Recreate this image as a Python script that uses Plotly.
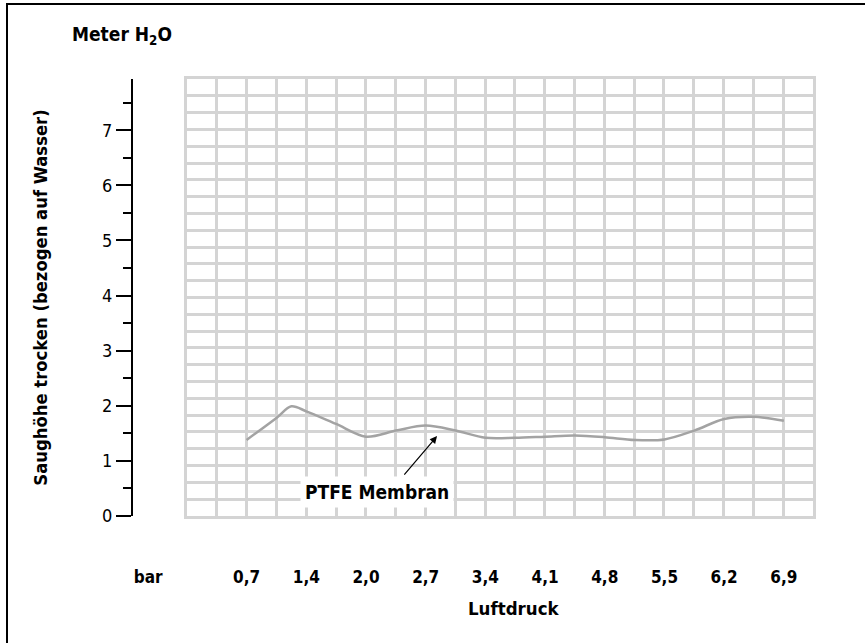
import plotly.graph_objects as go

# ---- data ----
pressure_labels = ["0,7", "1,4", "2,0", "2,7", "3,4", "4,1", "4,8", "5,5", "6,2", "6,9"]
unit_label = "bar"
# curve positions on the category scale (0 = 0,7 bar ... 9 = 6,9 bar) and read-off heights (m H2O)
curve_pos = [0, 0.5, 0.75, 1, 1.5, 2, 2.5, 3, 3.5, 4, 4.5, 5, 5.5, 6, 6.5, 7, 7.5, 8, 8.5, 9]
curve_val = [1.38, 1.78, 1.99, 1.90, 1.67, 1.44, 1.55, 1.64, 1.55, 1.42, 1.42, 1.44, 1.46,
             1.43, 1.38, 1.39, 1.55, 1.76, 1.80, 1.73]
y_ticks = [0, 1, 2, 3, 4, 5, 6, 7]

FONT = "Liberation Sans Narrow, Arial Narrow, DejaVu Sans Condensed, sans-serif"
GRID = "#d4d4d4"

W, H = 865, 643
L, R, T, B = 133, 52, 79, 127
plot_w = W - L - R
plot_h = H - T - B

x_range = [-1.903, 9.488]
y_range = [0, 7.93]

fig = go.Figure()

# decorative grid subplot (x/y) drawn first, underneath
fig.add_trace(go.Scatter(x=[None], y=[None], xaxis="x", yaxis="y", showlegend=False, hoverinfo="skip"))

# data curve on x2/y2
fig.add_trace(go.Scatter(
    x=curve_pos, y=curve_val, xaxis="x2", yaxis="y2",
    mode="lines", line=dict(color="#a3a3a3", width=2.5, shape="spline", smoothing=0.9),
    showlegend=False, hoverinfo="skip"))

grid_left_frac = (187 - L) / plot_w

fig.update_layout(
    width=W, height=H,
    margin=dict(l=L, r=R, t=T, b=B, autoexpand=False),
    paper_bgcolor="white", plot_bgcolor="rgba(0,0,0,0)",
    font=dict(family=FONT, color="black"),
    xaxis=dict(domain=[grid_left_frac, 1], range=[0, 21], dtick=1, tick0=0,
               showgrid=True, gridcolor=GRID, gridwidth=2.5,
               showline=True, mirror=True, linecolor=GRID, linewidth=2.5,
               showticklabels=False, ticks="", zeroline=False, anchor="y", automargin=False),
    yaxis=dict(domain=[0, 1], range=[0, 26], dtick=1, tick0=0,
               showgrid=True, gridcolor=GRID, gridwidth=2.5,
               showline=True, mirror=True, linecolor=GRID, linewidth=2.5,
               showticklabels=False, ticks="", zeroline=False, anchor="x", automargin=False),
    xaxis2=dict(domain=[0, 1], range=x_range, anchor="y2", automargin=False,
                tickvals=[-1.65] + list(range(len(pressure_labels))),
                ticktext=[unit_label] + pressure_labels,
                tickfont=dict(family=FONT, size=17, weight="bold"),
                ticks="", ticklabelstandoff=49,
                showgrid=False, zeroline=False, showline=False),
    yaxis2=dict(domain=[0, 1], range=y_range, anchor="x2", automargin=False,
                tickvals=y_ticks, ticks="outside", ticklen=15, tickwidth=2, tickcolor="black",
                minor=dict(dtick=0.5, tick0=0, ticks="outside", ticklen=8, tickwidth=2,
                           tickcolor="black", showgrid=False),
                tickfont=dict(family=FONT, size=18),
                showline=True, linecolor="black", linewidth=2,
                showgrid=False, zeroline=False,
                title=dict(text="Saughöhe trocken (bezogen auf Wasser)",
                           font=dict(family=FONT, size=18.3, weight="bold"), standoff=50)),
    annotations=[
        dict(text="<b>Meter H<sub>2</sub>O</b>", xref="paper", yref="paper",
             x=(122 - L) / plot_w, y=(H - B - 35) / plot_h, xanchor="center", yanchor="middle",
             showarrow=False, font=dict(family=FONT, size=19)),
        dict(text="<b>Luftdruck</b>", xref="paper", yref="paper",
             x=(513 - L) / plot_w, y=(H - B - 608) / plot_h, xanchor="center", yanchor="middle",
             showarrow=False, font=dict(family=FONT, size=18.5)),
        dict(text="<b>PTFE Membran</b>", xref="x2", yref="y2", x=2.18, y=0.436,
             xanchor="center", yanchor="middle", showarrow=False, bgcolor="white",
             borderpad=4, font=dict(family=FONT, size=19)),
        dict(text="", xref="x2", yref="y2", x=3.19, y=1.45, ax=-34, ay=40,
             showarrow=True, arrowhead=2, arrowsize=1.2, arrowwidth=1.2, arrowcolor="black"),
    ],
    shapes=[
        dict(type="rect", xref="paper", yref="paper",
             x0=(7 - L) / plot_w, x1=(W + 10 - L) / plot_w,
             y0=(H - B - (H + 10)) / plot_h, y1=(H - B - 4) / plot_h,
             line=dict(color="black", width=2), fillcolor="rgba(0,0,0,0)", layer="above"),
    ],
)

fig.write_html("out.html", config={"displayModeBar": False},
               post_script="document.body.style.margin='0';")
